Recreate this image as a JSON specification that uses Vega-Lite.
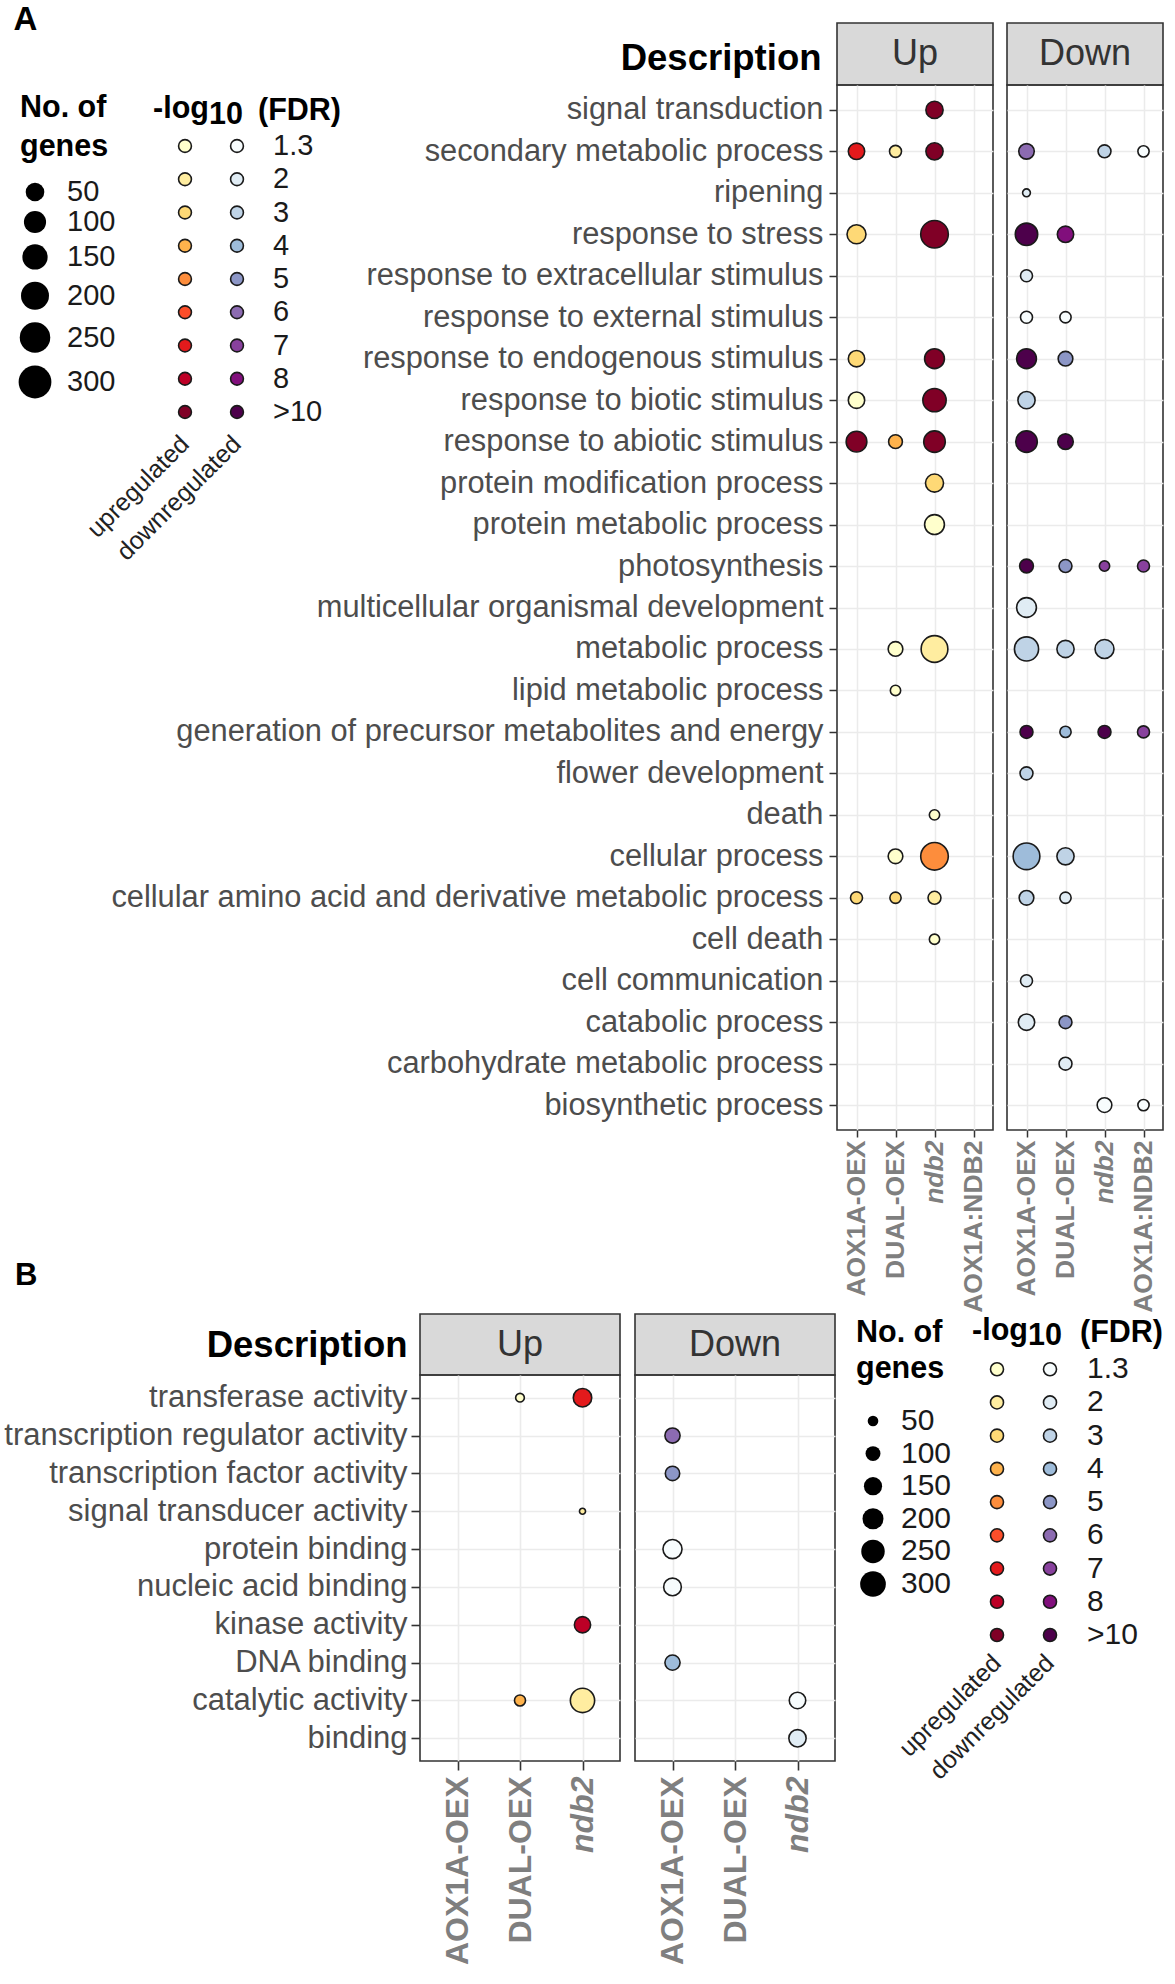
{
"$schema":"https://vega.github.io/schema/vega-lite/v6.json",
"background":"white",
"padding":{"left":3,"top":4,"right":5,"bottom":5},
"config":{"font":"Liberation Sans","view":{"stroke":null}},
"datasets":{
"goA":[
{"d":"signal transduction","g":"ndb2","dir":"Up","f":">10","n":117},
{"d":"secondary metabolic process","g":"AOX1A-OEX","dir":"Up","f":"7","n":106},
{"d":"secondary metabolic process","g":"DUAL-OEX","dir":"Up","f":"2","n":57},
{"d":"secondary metabolic process","g":"ndb2","dir":"Up","f":">10","n":117},
{"d":"response to stress","g":"AOX1A-OEX","dir":"Up","f":"3","n":142},
{"d":"response to stress","g":"ndb2","dir":"Up","f":">10","n":300},
{"d":"response to endogenous stimulus","g":"AOX1A-OEX","dir":"Up","f":"3","n":106},
{"d":"response to endogenous stimulus","g":"ndb2","dir":"Up","f":">10","n":155},
{"d":"response to biotic stimulus","g":"AOX1A-OEX","dir":"Up","f":"1.3","n":106},
{"d":"response to biotic stimulus","g":"ndb2","dir":"Up","f":">10","n":214},
{"d":"response to abiotic stimulus","g":"AOX1A-OEX","dir":"Up","f":">10","n":169},
{"d":"response to abiotic stimulus","g":"DUAL-OEX","dir":"Up","f":"4","n":75},
{"d":"response to abiotic stimulus","g":"ndb2","dir":"Up","f":">10","n":183},
{"d":"protein modification process","g":"ndb2","dir":"Up","f":"3","n":129},
{"d":"protein metabolic process","g":"ndb2","dir":"Up","f":"1.3","n":155},
{"d":"metabolic process","g":"DUAL-OEX","dir":"Up","f":"1.3","n":85},
{"d":"metabolic process","g":"ndb2","dir":"Up","f":"2","n":282},
{"d":"lipid metabolic process","g":"DUAL-OEX","dir":"Up","f":"1.3","n":42},
{"d":"death","g":"ndb2","dir":"Up","f":"1.3","n":42},
{"d":"cellular process","g":"DUAL-OEX","dir":"Up","f":"1.3","n":85},
{"d":"cellular process","g":"ndb2","dir":"Up","f":"5","n":300},
{"d":"cellular amino acid and derivative metabolic process","g":"AOX1A-OEX","dir":"Up","f":"3","n":57},
{"d":"cellular amino acid and derivative metabolic process","g":"DUAL-OEX","dir":"Up","f":"3","n":50},
{"d":"cellular amino acid and derivative metabolic process","g":"ndb2","dir":"Up","f":"2","n":66},
{"d":"cell death","g":"ndb2","dir":"Up","f":"1.3","n":42},
{"d":"secondary metabolic process","g":"AOX1A-OEX","dir":"Down","f":"6","n":95},
{"d":"secondary metabolic process","g":"ndb2","dir":"Down","f":"3","n":66},
{"d":"secondary metabolic process","g":"AOX1A:NDB2","dir":"Down","f":"1.3","n":50},
{"d":"ripening","g":"AOX1A-OEX","dir":"Down","f":"2","n":24},
{"d":"response to stress","g":"AOX1A-OEX","dir":"Down","f":">10","n":198},
{"d":"response to stress","g":"DUAL-OEX","dir":"Down","f":"8","n":106},
{"d":"response to extracellular stimulus","g":"AOX1A-OEX","dir":"Down","f":"2","n":57},
{"d":"response to external stimulus","g":"AOX1A-OEX","dir":"Down","f":"1.3","n":57},
{"d":"response to external stimulus","g":"DUAL-OEX","dir":"Down","f":"1.3","n":50},
{"d":"response to endogenous stimulus","g":"AOX1A-OEX","dir":"Down","f":">10","n":155},
{"d":"response to endogenous stimulus","g":"DUAL-OEX","dir":"Down","f":"5","n":85},
{"d":"response to biotic stimulus","g":"AOX1A-OEX","dir":"Down","f":"3","n":117},
{"d":"response to abiotic stimulus","g":"AOX1A-OEX","dir":"Down","f":">10","n":183},
{"d":"response to abiotic stimulus","g":"DUAL-OEX","dir":"Down","f":">10","n":95},
{"d":"photosynthesis","g":"AOX1A-OEX","dir":"Down","f":">10","n":75},
{"d":"photosynthesis","g":"DUAL-OEX","dir":"Down","f":"5","n":66},
{"d":"photosynthesis","g":"ndb2","dir":"Down","f":"7","n":42},
{"d":"photosynthesis","g":"AOX1A:NDB2","dir":"Down","f":"7","n":57},
{"d":"multicellular organismal development","g":"AOX1A-OEX","dir":"Down","f":"2","n":155},
{"d":"metabolic process","g":"AOX1A-OEX","dir":"Down","f":"3","n":230},
{"d":"metabolic process","g":"DUAL-OEX","dir":"Down","f":"3","n":117},
{"d":"metabolic process","g":"ndb2","dir":"Down","f":"3","n":142},
{"d":"generation of precursor metabolites and energy","g":"AOX1A-OEX","dir":"Down","f":">10","n":66},
{"d":"generation of precursor metabolites and energy","g":"DUAL-OEX","dir":"Down","f":"4","n":50},
{"d":"generation of precursor metabolites and energy","g":"ndb2","dir":"Down","f":">10","n":66},
{"d":"generation of precursor metabolites and energy","g":"AOX1A:NDB2","dir":"Down","f":"7","n":57},
{"d":"flower development","g":"AOX1A-OEX","dir":"Down","f":"3","n":66},
{"d":"cellular process","g":"AOX1A-OEX","dir":"Down","f":"4","n":282},
{"d":"cellular process","g":"DUAL-OEX","dir":"Down","f":"3","n":117},
{"d":"cellular amino acid and derivative metabolic process","g":"AOX1A-OEX","dir":"Down","f":"3","n":85},
{"d":"cellular amino acid and derivative metabolic process","g":"DUAL-OEX","dir":"Down","f":"2","n":50},
{"d":"cell communication","g":"AOX1A-OEX","dir":"Down","f":"2","n":57},
{"d":"catabolic process","g":"AOX1A-OEX","dir":"Down","f":"2","n":106},
{"d":"catabolic process","g":"DUAL-OEX","dir":"Down","f":"5","n":66},
{"d":"carbohydrate metabolic process","g":"DUAL-OEX","dir":"Down","f":"2","n":66},
{"d":"biosynthetic process","g":"ndb2","dir":"Down","f":"1.3","n":85},
{"d":"biosynthetic process","g":"AOX1A:NDB2","dir":"Down","f":"1.3","n":50}
],
"goB":[
{"d":"transferase activity","g":"DUAL-OEX","dir":"Up","f":"1.3","n":33},
{"d":"transferase activity","g":"ndb2","dir":"Up","f":"7","n":148},
{"d":"signal transducer activity","g":"ndb2","dir":"Up","f":"2","n":16},
{"d":"kinase activity","g":"ndb2","dir":"Up","f":"8","n":115},
{"d":"catalytic activity","g":"DUAL-OEX","dir":"Up","f":"4","n":53},
{"d":"catalytic activity","g":"ndb2","dir":"Up","f":"2","n":256},
{"d":"transcription regulator activity","g":"AOX1A-OEX","dir":"Down","f":"6","n":100},
{"d":"transcription factor activity","g":"AOX1A-OEX","dir":"Down","f":"5","n":90},
{"d":"protein binding","g":"AOX1A-OEX","dir":"Down","f":"1.3","n":158},
{"d":"nucleic acid binding","g":"AOX1A-OEX","dir":"Down","f":"1.3","n":136},
{"d":"DNA binding","g":"AOX1A-OEX","dir":"Down","f":"4","n":100},
{"d":"catalytic activity","g":"ndb2","dir":"Down","f":"1.3","n":118},
{"d":"binding","g":"ndb2","dir":"Down","f":"2","n":130}
],
"sizeLeg":[{"n":50},{"n":100},{"n":150},{"n":200},{"n":250},{"n":300}],
"lev":[{"f":"1.3"},{"f":"2"},{"f":"3"},{"f":"4"},{"f":"5"},{"f":"6"},{"f":"7"},{"f":"8"},{"f":">10"}],
"reg":[{"r":"upregulated"},{"r":"downregulated"}]
},
"spacing":-54,
"resolve":{"scale":{"x":"independent","y":"independent","color":"independent","size":"independent"}},
"vconcat":[
{
"columns":4,"bounds":"flush","align":"each","spacing":{"row":0,"column":14},
"resolve":{"scale":{"x":"independent","y":"independent","color":"independent","size":"independent"}},
"concat":[
{
"width":30,"height":62,
"title":{"text":"A","anchor":"start","fontSize":33,"fontWeight":"bold","color":"#000000","baseline":"alphabetic","offset":-40,"dx":-5},
"resolve":{"scale":{"y":"independent","size":"independent"}},
"layer":[
{"data":{"values":[{"h":"No. of"},{"h":"genes"}]},
"mark":{"type":"text","align":"left","baseline":"middle","fontSize":30.5,"fontWeight":"bold","color":"#000000","dx":-15},
"encoding":{"y":{"field":"h","type":"nominal","scale":{"type":"point","domain":["No. of","genes"],"range":[85,124],"padding":0},"axis":null},"text":{"field":"h","type":"nominal"}}},
{"data":{"name":"sizeLeg"},
"mark":{"type":"point","shape":"circle","filled":true,"opacity":1,"color":"#000000"},
"encoding":{"y":{"field":"n","type":"quantitative","scale":{"type":"pow","exponent":1.3,"domain":[50,300],"range":[169,359],"zero":false,"nice":false},"axis":null},
"size":{"field":"n","type":"quantitative","scale":{"domain":[50,300],"range":[346,1075],"zero":false},"legend":null}}},
{"data":{"name":"sizeLeg"},
"mark":{"type":"text","align":"left","baseline":"middle","fontSize":29,"color":"#1a1a1a","dx":32},
"encoding":{"y":{"field":"n","type":"quantitative","scale":{"type":"pow","exponent":1.3,"domain":[50,300],"range":[169,359],"zero":false,"nice":false},"axis":null},
"text":{"field":"n","type":"quantitative"}}}
]
},
{
"width":759,"height":62,
"resolve":{"scale":{"y":"independent","color":"independent"}},
"layer":[
{"data":{"name":"lev"},"mark":{"type":"point","shape":"circle","filled":true,"opacity":1,"stroke":"#1a1a1a","strokeWidth":1.6,"size":165},
"encoding":{"x":{"datum":"upregulated","type":"nominal","scale":{"type":"point","domain":["upregulated","downregulated"],"range":[121,173],"padding":0},"axis":null},
"y":{"field":"f","type":"ordinal","scale":{"type":"point","domain":["hdr","1.3","2","3","4","5","6","7","8",">10"],"range":[89.75,389],"padding":0},"axis":null},
"color":{"field":"f","type":"ordinal","scale":{"domain":["1.3","2","3","4","5","6","7","8",">10"],"range":["#ffffcc","#ffeda0","#fed976","#feb24c","#fd8d3c","#fc4e2a","#e31a1c","#bd0026","#800026"]},"legend":null}}},
{"data":{"name":"lev"},"mark":{"type":"point","shape":"circle","filled":true,"opacity":1,"stroke":"#1a1a1a","strokeWidth":1.6,"size":165},
"encoding":{"x":{"datum":"downregulated","type":"nominal"},
"y":{"field":"f","type":"ordinal","scale":{"type":"point","domain":["hdr","1.3","2","3","4","5","6","7","8",">10"],"range":[89.75,389],"padding":0},"axis":null},
"color":{"field":"f","type":"ordinal","scale":{"domain":["1.3","2","3","4","5","6","7","8",">10"],"range":["#f7fcfd","#e0ecf4","#bfd3e6","#9ebcda","#8c96c6","#8c6bb1","#88419d","#810f7c","#4d004b"]},"legend":null}}},
{"data":{"name":"lev"},"mark":{"type":"text","align":"left","baseline":"middle","fontSize":29,"color":"#1a1a1a","dx":36},
"encoding":{"x":{"datum":"downregulated","type":"nominal"},
"y":{"field":"f","type":"ordinal","scale":{"type":"point","domain":["hdr","1.3","2","3","4","5","6","7","8",">10"],"range":[89.75,389],"padding":0},"axis":null},
"text":{"field":"f","type":"nominal"}}},
{"data":{"values":[{}]},"mark":{"type":"text","text":"-log","fontSize":30.5,"fontWeight":"bold","color":"#000000","align":"center","baseline":"alphabetic","dx":-4,"dy":5},
"encoding":{"x":{"datum":"upregulated","type":"nominal"},"y":{"datum":"hdr","type":"ordinal","scale":{"type":"point","domain":["hdr","1.3","2","3","4","5","6","7","8",">10"],"range":[89.75,389],"padding":0},"axis":null}}},
{"data":{"values":[{}]},"mark":{"type":"text","text":"10","fontSize":30.5,"fontWeight":"bold","color":"#000000","align":"center","baseline":"alphabetic","dx":-11,"dy":11},
"encoding":{"x":{"datum":"downregulated","type":"nominal"},"y":{"datum":"hdr","type":"ordinal","scale":{"type":"point","domain":["hdr","1.3","2","3","4","5","6","7","8",">10"],"range":[89.75,389],"padding":0},"axis":null}}},
{"data":{"values":[{}]},"mark":{"type":"text","text":"(FDR)","fontSize":30.5,"fontWeight":"bold","color":"#000000","align":"left","baseline":"alphabetic","dx":21,"dy":7},
"encoding":{"x":{"datum":"downregulated","type":"nominal"},"y":{"datum":"hdr","type":"ordinal","scale":{"type":"point","domain":["hdr","1.3","2","3","4","5","6","7","8",">10"],"range":[89.75,389],"padding":0},"axis":null}}},
{"data":{"name":"reg"},"mark":{"type":"text","align":"right","baseline":"middle","angle":315,"fontSize":25,"color":"#222222"},
"encoding":{"x":{"field":"r","type":"nominal"},"y":{"datum":"rot","type":"ordinal","scale":{"type":"point","domain":[">10","rot"],"range":[389,417],"padding":0},"axis":null},"text":{"field":"r","type":"nominal"}}}
]
},
{"width":156,"height":62,"data":{"values":[{"panel":"Up"}]},
"mark":{"type":"text","fontSize":36,"color":"#333333","baseline":"middle"},
"encoding":{"text":{"field":"panel","type":"nominal"}},
"view":{"fill":"#d9d9d9","stroke":"#333333","strokeWidth":1.6}},
{"width":156,"height":62,"data":{"values":[{"panel":"Down"}]},
"mark":{"type":"text","fontSize":36,"color":"#333333","baseline":"middle"},
"encoding":{"text":{"field":"panel","type":"nominal"}},
"view":{"fill":"#d9d9d9","stroke":"#333333","strokeWidth":1.6}},
{"width":30,"height":1045,"data":{"values":[]},"mark":"point"},
{"width":759,"height":1045,"data":{"values":[]},"mark":"point"},
{"width":156,"height":1045,"data":{"name":"goA"},
"transform":[{"filter":"datum.dir === 'Up'"}],
"mark":{"type":"point","shape":"circle","filled":true,"opacity":1,"stroke":"#1a1a1a","strokeWidth":1.6},
"encoding":{
"x":{"field":"g","type":"nominal","scale":{"type":"point","domain":["AOX1A-OEX","DUAL-OEX","ndb2","AOX1A:NDB2"],"padding":0.5},
"axis":{"title":null,"labelAngle":270,"labelFontSize":26.5,"labelFontWeight":"bold","labelColor":"#7f7f7f","labelFontStyle":{"condition":{"test":"datum.value === 'ndb2'","value":"italic"},"value":"normal"},"labelPadding":3,"labelLimit":1000,"tickSize":7,"tickWidth":1.5,"tickColor":"#333333","domain":false,"grid":true,"gridColor":"#ebebeb","gridWidth":1.5}},
"y":{"field":"d","type":"nominal","scale":{"type":"point","domain":["signal transduction","secondary metabolic process","ripening","response to stress","response to extracellular stimulus","response to external stimulus","response to endogenous stimulus","response to biotic stimulus","response to abiotic stimulus","protein modification process","protein metabolic process","photosynthesis","multicellular organismal development","metabolic process","lipid metabolic process","generation of precursor metabolites and energy","flower development","death","cellular process","cellular amino acid and derivative metabolic process","cell death","cell communication","catabolic process","carbohydrate metabolic process","biosynthetic process"],"padding":0.6},
"axis":{"title":"Description","titleAngle":0,"titleAlign":"right","titleBaseline":"middle","titleX":-16,"titleY":-27,"titleFontSize":36.5,"titleFontWeight":"bold","titleColor":"#000000","labelFontSize":30.8,"labelColor":"#4d4d4d","labelPadding":6,"labelLimit":1000,"tickSize":8,"tickWidth":1.5,"tickColor":"#333333","domain":false,"grid":true,"gridColor":"#ebebeb","gridWidth":1.5}},
"size":{"field":"n","type":"quantitative","scale":{"domain":[0,300],"range":[0,760]},"legend":null},
"color":{"field":"f","type":"ordinal","scale":{"domain":["1.3","2","3","4","5","6","7","8",">10"],"range":["#ffffcc","#ffeda0","#fed976","#feb24c","#fd8d3c","#fc4e2a","#e31a1c","#bd0026","#800026"]},"legend":null}
},
"view":{"stroke":"#333333","strokeWidth":1.6}},
{"width":156,"height":1045,"data":{"name":"goA"},
"transform":[{"filter":"datum.dir === 'Down'"}],
"mark":{"type":"point","shape":"circle","filled":true,"opacity":1,"stroke":"#1a1a1a","strokeWidth":1.6},
"encoding":{
"x":{"field":"g","type":"nominal","scale":{"type":"point","domain":["AOX1A-OEX","DUAL-OEX","ndb2","AOX1A:NDB2"],"padding":0.5},
"axis":{"title":null,"labelAngle":270,"labelFontSize":26.5,"labelFontWeight":"bold","labelColor":"#7f7f7f","labelFontStyle":{"condition":{"test":"datum.value === 'ndb2'","value":"italic"},"value":"normal"},"labelPadding":3,"labelLimit":1000,"tickSize":7,"tickWidth":1.5,"tickColor":"#333333","domain":false,"grid":true,"gridColor":"#ebebeb","gridWidth":1.5}},
"y":{"field":"d","type":"nominal","scale":{"type":"point","domain":["signal transduction","secondary metabolic process","ripening","response to stress","response to extracellular stimulus","response to external stimulus","response to endogenous stimulus","response to biotic stimulus","response to abiotic stimulus","protein modification process","protein metabolic process","photosynthesis","multicellular organismal development","metabolic process","lipid metabolic process","generation of precursor metabolites and energy","flower development","death","cellular process","cellular amino acid and derivative metabolic process","cell death","cell communication","catabolic process","carbohydrate metabolic process","biosynthetic process"],"padding":0.6},
"axis":{"title":null,"labels":false,"ticks":false,"domain":false,"grid":true,"gridColor":"#ebebeb","gridWidth":1.5}},
"size":{"field":"n","type":"quantitative","scale":{"domain":[0,300],"range":[0,760]},"legend":null},
"color":{"field":"f","type":"ordinal","scale":{"domain":["1.3","2","3","4","5","6","7","8",">10"],"range":["#f7fcfd","#e0ecf4","#bfd3e6","#9ebcda","#8c96c6","#8c6bb1","#88419d","#810f7c","#4d004b"]},"legend":null}
},
"view":{"stroke":"#333333","strokeWidth":1.6}}
]
},
{
"columns":5,"bounds":"flush","align":"each","spacing":{"row":0,"column":15},
"resolve":{"scale":{"x":"independent","y":"independent","color":"independent","size":"independent"}},
"concat":[
{"width":385,"height":61,"data":{"values":[]},"mark":"point",
"title":{"text":"B","anchor":"start","fontSize":31,"fontWeight":"bold","color":"#000000","baseline":"alphabetic","offset":-2,"dx":-5}},
{"width":200,"height":61,"data":{"values":[{"panel":"Up"}]},
"mark":{"type":"text","fontSize":36,"color":"#333333","baseline":"middle"},
"encoding":{"text":{"field":"panel","type":"nominal"}},
"view":{"fill":"#d9d9d9","stroke":"#333333","strokeWidth":1.6}},
{"width":200,"height":61,"data":{"values":[{"panel":"Down"}]},
"mark":{"type":"text","fontSize":36,"color":"#333333","baseline":"middle"},
"encoding":{"text":{"field":"panel","type":"nominal"}},
"view":{"fill":"#d9d9d9","stroke":"#333333","strokeWidth":1.6}},
{
"width":46,"height":61,
"resolve":{"scale":{"y":"independent","size":"independent"}},
"layer":[
{"data":{"values":[{"h":"No. of"},{"h":"genes"}]},
"mark":{"type":"text","align":"left","baseline":"middle","fontSize":30.5,"fontWeight":"bold","color":"#000000","dx":-17},
"encoding":{"y":{"field":"h","type":"nominal","scale":{"type":"point","domain":["No. of","genes"],"range":[19,55],"padding":0},"axis":null},"text":{"field":"h","type":"nominal"}}},
{"data":{"name":"sizeLeg"},
"mark":{"type":"point","shape":"circle","filled":true,"opacity":1,"color":"#000000"},
"encoding":{"y":{"field":"n","type":"quantitative","scale":{"type":"linear","domain":[50,300],"range":[107,270],"zero":false,"nice":false},"axis":null},
"size":{"field":"n","type":"quantitative","scale":{"domain":[50,300],"range":[113,660],"zero":false},"legend":null}}},
{"data":{"name":"sizeLeg"},
"mark":{"type":"text","align":"left","baseline":"middle","fontSize":30,"color":"#1a1a1a","dx":28},
"encoding":{"y":{"field":"n","type":"quantitative","scale":{"type":"linear","domain":[50,300],"range":[107,270],"zero":false,"nice":false},"axis":null},
"text":{"field":"n","type":"quantitative"}}}
]
},
{
"width":150,"height":61,
"resolve":{"scale":{"y":"independent","color":"independent"}},
"layer":[
{"data":{"name":"lev"},"mark":{"type":"point","shape":"circle","filled":true,"opacity":1,"stroke":"#1a1a1a","strokeWidth":1.6,"size":170},
"encoding":{"x":{"datum":"upregulated","type":"nominal","scale":{"type":"point","domain":["upregulated","downregulated"],"range":[86,139],"padding":0},"axis":null},
"y":{"field":"f","type":"ordinal","scale":{"type":"point","domain":["hdr","1.3","2","3","4","5","6","7","8",">10"],"range":[22,321],"padding":0},"axis":null},
"color":{"field":"f","type":"ordinal","scale":{"domain":["1.3","2","3","4","5","6","7","8",">10"],"range":["#ffffcc","#ffeda0","#fed976","#feb24c","#fd8d3c","#fc4e2a","#e31a1c","#bd0026","#800026"]},"legend":null}}},
{"data":{"name":"lev"},"mark":{"type":"point","shape":"circle","filled":true,"opacity":1,"stroke":"#1a1a1a","strokeWidth":1.6,"size":170},
"encoding":{"x":{"datum":"downregulated","type":"nominal"},
"y":{"field":"f","type":"ordinal","scale":{"type":"point","domain":["hdr","1.3","2","3","4","5","6","7","8",">10"],"range":[22,321],"padding":0},"axis":null},
"color":{"field":"f","type":"ordinal","scale":{"domain":["1.3","2","3","4","5","6","7","8",">10"],"range":["#f7fcfd","#e0ecf4","#bfd3e6","#9ebcda","#8c96c6","#8c6bb1","#88419d","#810f7c","#4d004b"]},"legend":null}}},
{"data":{"name":"lev"},"mark":{"type":"text","align":"left","baseline":"middle","fontSize":30,"color":"#1a1a1a","dx":37},
"encoding":{"x":{"datum":"downregulated","type":"nominal"},
"y":{"field":"f","type":"ordinal","scale":{"type":"point","domain":["hdr","1.3","2","3","4","5","6","7","8",">10"],"range":[22,321],"padding":0},"axis":null},
"text":{"field":"f","type":"nominal"}}},
{"data":{"values":[{}]},"mark":{"type":"text","text":"-log","fontSize":30.5,"fontWeight":"bold","color":"#000000","align":"center","baseline":"alphabetic","dx":3,"dy":4},
"encoding":{"x":{"datum":"upregulated","type":"nominal"},"y":{"datum":"hdr","type":"ordinal","scale":{"type":"point","domain":["hdr","1.3","2","3","4","5","6","7","8",">10"],"range":[22,321],"padding":0},"axis":null}}},
{"data":{"values":[{}]},"mark":{"type":"text","text":"10","fontSize":30.5,"fontWeight":"bold","color":"#000000","align":"center","baseline":"alphabetic","dx":-5,"dy":9},
"encoding":{"x":{"datum":"downregulated","type":"nominal"},"y":{"datum":"hdr","type":"ordinal","scale":{"type":"point","domain":["hdr","1.3","2","3","4","5","6","7","8",">10"],"range":[22,321],"padding":0},"axis":null}}},
{"data":{"values":[{}]},"mark":{"type":"text","text":"(FDR)","fontSize":30.5,"fontWeight":"bold","color":"#000000","align":"left","baseline":"alphabetic","dx":30,"dy":6},
"encoding":{"x":{"datum":"downregulated","type":"nominal"},"y":{"datum":"hdr","type":"ordinal","scale":{"type":"point","domain":["hdr","1.3","2","3","4","5","6","7","8",">10"],"range":[22,321],"padding":0},"axis":null}}},
{"data":{"name":"reg"},"mark":{"type":"text","align":"right","baseline":"middle","angle":315,"fontSize":25,"color":"#222222"},
"encoding":{"x":{"field":"r","type":"nominal"},"y":{"datum":"rot","type":"ordinal","scale":{"type":"point","domain":[">10","rot"],"range":[321,345],"padding":0},"axis":null},"text":{"field":"r","type":"nominal"}}}
]
},
{"width":385,"height":386,"data":{"values":[]},"mark":"point"},
{"width":200,"height":386,"data":{"name":"goB"},
"transform":[{"filter":"datum.dir === 'Up'"}],
"mark":{"type":"point","shape":"circle","filled":true,"opacity":1,"stroke":"#1a1a1a","strokeWidth":1.6},
"encoding":{
"x":{"field":"g","type":"nominal","scale":{"type":"point","domain":["AOX1A-OEX","DUAL-OEX","ndb2"],"padding":0.6},
"axis":{"title":null,"labelAngle":270,"labelFontSize":32,"labelFontWeight":"bold","labelColor":"#7f7f7f","labelFontStyle":{"condition":{"test":"datum.value === 'ndb2'","value":"italic"},"value":"normal"},"labelPadding":6,"labelLimit":1000,"tickSize":9,"tickWidth":1.6,"tickColor":"#333333","domain":false,"grid":true,"gridColor":"#ebebeb","gridWidth":1.6}},
"y":{"field":"d","type":"nominal","scale":{"type":"point","domain":["transferase activity","transcription regulator activity","transcription factor activity","signal transducer activity","protein binding","nucleic acid binding","kinase activity","DNA binding","catalytic activity","binding"],"padding":0.6},
"axis":{"title":"Description","titleAngle":0,"titleAlign":"right","titleBaseline":"middle","titleX":-13,"titleY":-30,"titleFontSize":36.5,"titleFontWeight":"bold","titleColor":"#000000","labelFontSize":31,"labelColor":"#4d4d4d","labelPadding":4,"labelLimit":1000,"tickSize":9,"tickWidth":1.6,"tickColor":"#333333","domain":false,"grid":true,"gridColor":"#ebebeb","gridWidth":1.6}},
"size":{"field":"n","type":"quantitative","scale":{"domain":[0,300],"range":[0,690]},"legend":null},
"color":{"field":"f","type":"ordinal","scale":{"domain":["1.3","2","3","4","5","6","7","8",">10"],"range":["#ffffcc","#ffeda0","#fed976","#feb24c","#fd8d3c","#fc4e2a","#e31a1c","#bd0026","#800026"]},"legend":null}
},
"view":{"stroke":"#333333","strokeWidth":1.6}},
{"width":200,"height":386,"data":{"name":"goB"},
"transform":[{"filter":"datum.dir === 'Down'"}],
"mark":{"type":"point","shape":"circle","filled":true,"opacity":1,"stroke":"#1a1a1a","strokeWidth":1.6},
"encoding":{
"x":{"field":"g","type":"nominal","scale":{"type":"point","domain":["AOX1A-OEX","DUAL-OEX","ndb2"],"padding":0.6},
"axis":{"title":null,"labelAngle":270,"labelFontSize":32,"labelFontWeight":"bold","labelColor":"#7f7f7f","labelFontStyle":{"condition":{"test":"datum.value === 'ndb2'","value":"italic"},"value":"normal"},"labelPadding":6,"labelLimit":1000,"tickSize":9,"tickWidth":1.6,"tickColor":"#333333","domain":false,"grid":true,"gridColor":"#ebebeb","gridWidth":1.6}},
"y":{"field":"d","type":"nominal","scale":{"type":"point","domain":["transferase activity","transcription regulator activity","transcription factor activity","signal transducer activity","protein binding","nucleic acid binding","kinase activity","DNA binding","catalytic activity","binding"],"padding":0.6},
"axis":{"title":null,"labels":false,"ticks":false,"domain":false,"grid":true,"gridColor":"#ebebeb","gridWidth":1.6}},
"size":{"field":"n","type":"quantitative","scale":{"domain":[0,300],"range":[0,690]},"legend":null},
"color":{"field":"f","type":"ordinal","scale":{"domain":["1.3","2","3","4","5","6","7","8",">10"],"range":["#f7fcfd","#e0ecf4","#bfd3e6","#9ebcda","#8c96c6","#8c6bb1","#88419d","#810f7c","#4d004b"]},"legend":null}
},
"view":{"stroke":"#333333","strokeWidth":1.6}}
]
}
]
}
